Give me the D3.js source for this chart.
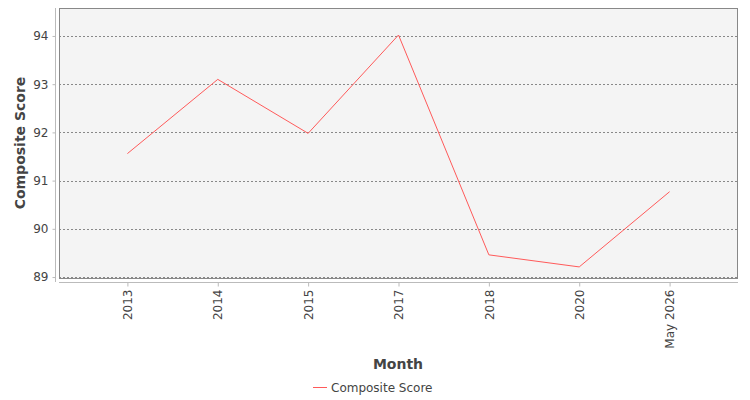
<!DOCTYPE html>
<html><head><meta charset="utf-8">
<script src="https://cdn.jsdelivr.net/npm/d3@7"></script>
<style>body{margin:0;background:#fff;}text{font-family:"DejaVu Sans",sans-serif;}</style>
</head><body><svg id="c" width="750" height="400"></svg>
<script>
const categories = ["2013","2014","2015","2017","2018","2020","May 2026"];
const values = [91.56, 93.10, 91.98, 94.02, 89.46, 89.21, 90.77];
const yTicks = [89,90,91,92,93,94];
const seriesName = "Composite Score";

const svg = d3.select("#c");
const L=59,R=738,T=8,B=278;
const x = d3.scalePoint().domain(categories).range([L,R]).padding(0.757);
const y = d3.scaleLinear().domain([88.98,94.58]).range([B,T]);

svg.append("rect").attr("x",L).attr("y",T).attr("width",R-L).attr("height",B-T).attr("fill","#f4f4f4");
svg.append("g").selectAll("line").data(yTicks).join("line")
  .attr("x1",L).attr("x2",R).attr("y1",d=>Math.round(y(d))+0.5).attr("y2",d=>Math.round(y(d))+0.5)
  .attr("stroke","#888").attr("stroke-dasharray","2,2").attr("stroke-width",1);
svg.append("rect").attr("x",L+0.5).attr("y",T+0.5).attr("width",R-L-1).attr("height",B-T).attr("fill","none").attr("stroke","#888");

// y axis
const ya = svg.append("g").attr("transform",`translate(${55.5},0)`)
  .call(d3.axisLeft(y).tickValues(yTicks).tickSize(3).tickPadding(4).tickFormat(d3.format("d")));
ya.select(".domain").attr("stroke","#bbb").attr("d",`M0,${T}V${B+4}`);
ya.selectAll(".tick line").attr("stroke","#bbb");
ya.selectAll("text").attr("fill","#444").attr("font-size",12).attr("font-family","DejaVu Sans");

// x axis
const xa = svg.append("g").attr("transform",`translate(0,${282.5})`)
  .call(d3.axisBottom(x).tickSize(4));
xa.select(".domain").attr("stroke","#bbb").attr("d",`M${L},0H${R}`);
xa.selectAll(".tick line").attr("stroke","#bbb");
xa.selectAll("text").attr("fill","#444").attr("font-size",12).attr("font-family","DejaVu Sans")
  .attr("transform","rotate(-90)").attr("text-anchor","end").attr("dx",0).attr("dy","0.35em").attr("y",0).attr("x",-7);

// line
svg.append("path").datum(values.map((v,i)=>[categories[i],v]))
  .attr("fill","none").attr("stroke","#ff5a5a").attr("stroke-width",1)
  .attr("d",d3.line().x(d=>x(d[0])).y(d=>y(d[1])));

svg.append("text").attr("transform","translate(25,143) rotate(-90)").attr("text-anchor","middle")
  .attr("font-size",14).attr("font-weight","bold").attr("fill","#444").text("Composite Score");
svg.append("text").attr("x",398).attr("y",369).attr("text-anchor","middle")
  .attr("font-size",14).attr("font-weight","bold").attr("fill","#444").text("Month");

svg.append("line").attr("x1",313).attr("x2",327).attr("y1",387.5).attr("y2",387.5).attr("stroke","#ff5a5a");
svg.append("text").attr("x",331).attr("y",392).attr("font-size",12).attr("fill","#444").text(seriesName);
</script></body></html>
